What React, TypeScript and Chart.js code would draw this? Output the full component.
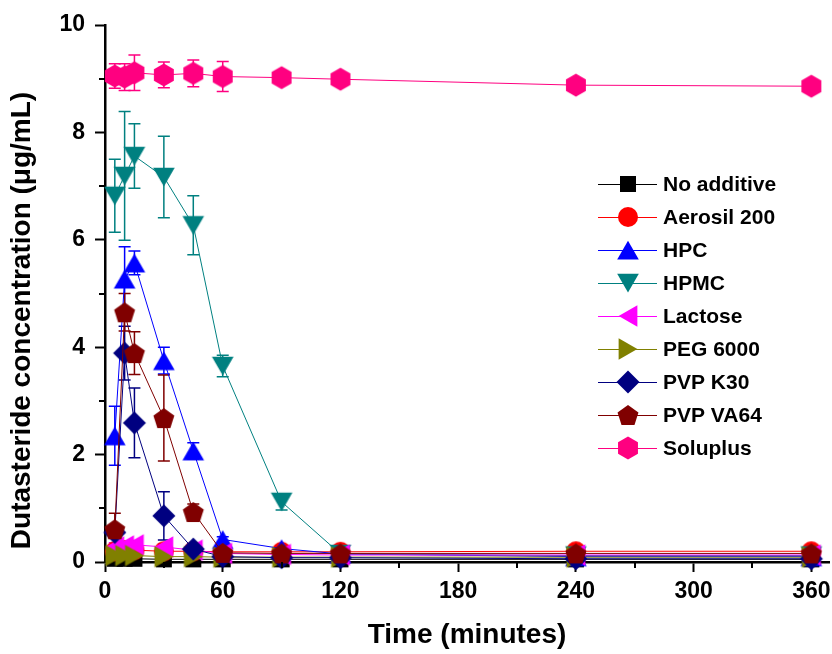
import React, { useEffect, useRef } from 'react';
import { Chart, registerables } from 'chart.js';

Chart.register(...registerables);

// ---------- data ----------
const TIMES = [5, 10, 15, 30, 45, 60, 90, 120, 240, 360];
const X_TICKS = [0, 60, 120, 180, 240, 300, 360];
const X_MINOR = [30, 90, 150, 210, 270, 330];
const Y_MINOR = [1, 3, 5, 7, 9];

const NAMES = ['No additive', 'Aerosil 200', 'HPC', 'HPMC', 'Lactose', 'PEG 6000', 'PVP K30', 'PVP VA64', 'Soluplus'];
const X_TITLE = 'Time (minutes)';
const Y_TITLE = 'Dutasteride concentration (μg/mL)';

const NO_ADDITIVE = [0.06, 0.06, 0.06, 0.05, 0.05, 0.05, 0.05, 0.05, 0.05, 0.05];
const NO_ADDITIVE_SD = [0.02, 0.02, 0.02, 0.02, 0.02, 0.02, 0.02, 0.02, 0.02, 0.02];
const AEROSIL = [0.2, 0.22, 0.22, 0.2, 0.2, 0.19, 0.19, 0.19, 0.2, 0.2];
const AEROSIL_SD = [0.03, 0.03, 0.03, 0.03, 0.03, 0.03, 0.03, 0.03, 0.03, 0.03];
const HPC = [2.35, 5.27, 5.57, 3.75, 2.07, 0.42, 0.25, 0.15, 0.1, 0.1];
const HPC_SD = [0.55, 0.6, 0.22, 0.25, 0.15, 0.05, 0.03, 0.02, 0.02, 0.02];
const HPMC = [6.82, 7.19, 7.56, 7.17, 6.27, 3.65, 1.12, 0.15, 0.12, 0.12];
const HPMC_SD = [0.68, 1.2, 0.6, 0.76, 0.55, 0.2, 0.15, 0.03, 0.02, 0.02];
const LACTOSE = [0.28, 0.3, 0.32, 0.28, 0.22, 0.16, 0.14, 0.13, 0.13, 0.13];
const LACTOSE_SD = [0.08, 0.08, 0.08, 0.06, 0.05, 0.03, 0.03, 0.03, 0.03, 0.03];
const PEG = [0.12, 0.12, 0.12, 0.1, 0.1, 0.09, 0.09, 0.09, 0.09, 0.09];
const PEG_SD = [0.03, 0.03, 0.03, 0.03, 0.03, 0.02, 0.02, 0.02, 0.02, 0.02];
const PVP_K30 = [0.55, 3.89, 2.59, 0.86, 0.24, 0.1, 0.08, 0.08, 0.06, 0.06];
const PVP_K30_SD = [0.1, 0.5, 0.65, 0.45, 0.1, 0.03, 0.02, 0.02, 0.02, 0.02];
const PVP_VA64 = [0.61, 4.65, 3.89, 2.68, 0.93, 0.17, 0.16, 0.16, 0.16, 0.16];
const PVP_VA64_SD = [0.3, 0.35, 0.4, 0.8, 0.15, 0.05, 0.03, 0.03, 0.03, 0.03];
const SOLUPLUS = [9.05, 9.03, 9.11, 9.07, 9.1, 9.04, 9.02, 8.99, 8.88, 8.86];
const SOLUPLUS_SD = [0.23, 0.25, 0.33, 0.24, 0.25, 0.28, 0.08, 0.1, 0.05, 0.05];

const VALUES = [NO_ADDITIVE, AEROSIL, HPC, HPMC, LACTOSE, PEG, PVP_K30, PVP_VA64, SOLUPLUS];
const ERRORS = [NO_ADDITIVE_SD, AEROSIL_SD, HPC_SD, HPMC_SD, LACTOSE_SD, PEG_SD, PVP_K30_SD, PVP_VA64_SD, SOLUPLUS_SD];

// ---------- styles ----------
const COLORS = ['#000000', '#FF0000', '#0000FF', '#008080', '#FF00FF', '#808000', '#000080', '#800000', '#FF0080'];
const SHAPES = ['square', 'circle', 'up', 'down', 'left', 'right', 'diamond', 'pentagon', 'hexagon'];
const FONT = "'Liberation Sans', Arial, Helvetica, sans-serif";

function makeMarker(shape: string, color: string): HTMLCanvasElement {
  const size = 28;
  const c = document.createElement('canvas');
  c.width = size;
  c.height = size;
  const ctx = c.getContext('2d')!;
  const cx = size / 2;
  const cy = size / 2;
  ctx.fillStyle = color;
  ctx.beginPath();
  const poly = (n: number, r: number, rot: number, dx = 0, dy = 0) => {
    for (let k = 0; k < n; k++) {
      const a = rot + (k * 2 * Math.PI) / n;
      const x = cx + dx + r * Math.cos(a);
      const y = cy + dy + r * Math.sin(a);
      if (k === 0) ctx.moveTo(x, y);
      else ctx.lineTo(x, y);
    }
    ctx.closePath();
  };
  const tr = 12.5;
  switch (shape) {
    case 'square':
      ctx.rect(cx - 8, cy - 8, 16, 16);
      break;
    case 'circle':
      ctx.arc(cx, cy, 10, 0, Math.PI * 2);
      break;
    case 'up':
      poly(3, tr, -Math.PI / 2, 0, tr / 4);
      break;
    case 'down':
      poly(3, tr, Math.PI / 2, 0, -tr / 4);
      break;
    case 'left':
      poly(3, tr, Math.PI, tr / 4, 0);
      break;
    case 'right':
      poly(3, tr, 0, -tr / 4, 0);
      break;
    case 'diamond':
      poly(4, 11.5, -Math.PI / 2);
      break;
    case 'pentagon':
      poly(5, 11, -Math.PI / 2, 0, 1);
      break;
    case 'hexagon':
      poly(6, 11.5, -Math.PI / 2);
      break;
  }
  ctx.fill();
  return c;
}

const errorBarPlugin = {
  id: 'errorBars',
  beforeDatasetsDraw(chart: any) {
    const ctx = chart.ctx;
    const xs = chart.scales.x;
    const ys = chart.scales.y;
    ERRORS.forEach((sd, di) => {
      ctx.save();
      ctx.strokeStyle = COLORS[di];
      ctx.lineWidth = 1.5;
      TIMES.forEach((t, i) => {
        const e = sd[i];
        if (!e) return;
        const v = VALUES[di][i];
        const x = xs.getPixelForValue(t);
        const yT = ys.getPixelForValue(v + e);
        const yB = ys.getPixelForValue(v - e);
        ctx.beginPath();
        ctx.moveTo(x, yT);
        ctx.lineTo(x, yB);
        ctx.moveTo(x - 6, yT);
        ctx.lineTo(x + 6, yT);
        ctx.moveTo(x - 6, yB);
        ctx.lineTo(x + 6, yB);
        ctx.stroke();
      });
      ctx.restore();
    });
  },
};

const minorTickPlugin = {
  id: 'minorTicks',
  afterDraw(chart: any) {
    const ctx = chart.ctx;
    const xs = chart.scales.x;
    const ys = chart.scales.y;
    const area = chart.chartArea;
    ctx.save();
    ctx.strokeStyle = '#000';
    ctx.lineWidth = 2;
    ctx.beginPath();
    X_MINOR.forEach((v) => {
      const x = Math.round(xs.getPixelForValue(v));
      ctx.moveTo(x, area.bottom);
      ctx.lineTo(x, area.bottom + 6);
    });
    Y_MINOR.forEach((v) => {
      const y = Math.round(ys.getPixelForValue(v));
      ctx.moveTo(area.left, y);
      ctx.lineTo(area.left - 6, y);
    });
    ctx.stroke();
    // y axis title
    ctx.translate(22, (area.top + area.bottom) / 2 + 27);
    ctx.rotate(-Math.PI / 2);
    ctx.fillStyle = '#000';
    ctx.font = `bold 28px ${FONT}`;
    ctx.textAlign = 'center';
    ctx.textBaseline = 'middle';
    ctx.fillText(Y_TITLE, 0, 0);
    ctx.restore();
  },
};

const legendPlugin = {
  id: 'customLegend',
  afterDraw(chart: any) {
    const ctx = chart.ctx;
    const area = chart.chartArea;
    const lineX0 = area.right - 231;
    const lineX1 = area.right - 172;
    const markX = area.right - 201;
    const textX = area.right - 166;
    const top = area.top + 159;
    const step = 33;
    ctx.save();
    chart.data.datasets.forEach((ds: any, i: number) => {
      const y = top + i * step;
      ctx.strokeStyle = COLORS[i];
      ctx.lineWidth = 1;
      ctx.beginPath();
      ctx.moveTo(lineX0, y + 0.5);
      ctx.lineTo(lineX1, y + 0.5);
      ctx.stroke();
      const img = ds.pointStyle as HTMLCanvasElement;
      ctx.drawImage(img, Math.round(markX - img.width / 2), Math.round(y - img.height / 2));
      ctx.fillStyle = '#000';
      ctx.font = `bold 21px ${FONT}`;
      ctx.textAlign = 'left';
      ctx.textBaseline = 'middle';
      ctx.fillText(ds.label, textX, y + 1);
    });
    ctx.restore();
  },
};

export default function App() {
  const canvasRef = useRef<HTMLCanvasElement | null>(null);

  useEffect(() => {
    document.body.style.margin = '0';
    const canvas = canvasRef.current;
    if (!canvas) return;

    const datasets = NAMES.map((name, i) => ({
      label: name,
      data: TIMES.map((t, k) => ({ x: t, y: VALUES[i][k] })),
      borderColor: COLORS[i],
      backgroundColor: COLORS[i],
      borderWidth: 1,
      pointStyle: makeMarker(SHAPES[i], COLORS[i]),
      pointRadius: 11,
      pointHoverRadius: 11,
      tension: 0,
      clip: false as any,
      order: -i,
    }));

    const chart = new Chart(canvas, {
      type: 'line',
      data: { datasets },
      plugins: [errorBarPlugin, minorTickPlugin, legendPlugin],
      options: {
        animation: false,
        responsive: false,
        devicePixelRatio: 1,
        layout: { autoPadding: false, padding: { top: 25, right: 3, left: 0, bottom: 0 } },
        plugins: {
          legend: { display: false },
          tooltip: { enabled: false },
        },
        scales: {
          x: {
            type: 'linear',
            min: 0,
            max: 369,
            afterBuildTicks: (axis: any) => {
              axis.ticks = X_TICKS.map((v) => ({ value: v }));
            },
            afterFit: (axis: any) => {
              axis.height = 92;
              axis.paddingLeft = 0;
              axis.paddingRight = 0;
            },
            grid: {
              drawOnChartArea: false,
              drawTicks: true,
              tickLength: 10,
              tickWidth: 2,
              tickColor: '#000',
            },
            border: { display: true, color: '#000', width: 2.5 },
            ticks: {
              color: '#000',
              font: { family: FONT, size: 23, weight: 'bold' },
              padding: 6,
              maxRotation: 0,
              autoSkip: false,
            },
            title: {
              display: true,
              text: X_TITLE,
              color: '#000',
              font: { family: FONT, size: 28, weight: 'bold' },
              padding: { top: 0, bottom: 2 },
            },
          },
          y: {
            type: 'linear',
            min: 0,
            max: 10,
            ticks: {
              stepSize: 2,
              color: '#000',
              font: { family: FONT, size: 23, weight: 'bold' },
              padding: 10,
            },
            afterFit: (axis: any) => {
              axis.width = 105;
              axis.paddingTop = 0;
              axis.paddingBottom = 0;
            },
            grid: {
              drawOnChartArea: false,
              drawTicks: true,
              tickLength: 10,
              tickWidth: 2,
              tickColor: '#000',
            },
            border: { display: true, color: '#000', width: 2.5 },
            title: { display: false },
          },
        },
      } as any,
    });

    return () => {
      chart.destroy();
    };
  }, []);

  return (
    <div style={{ width: 832, height: 654 }}>
      <canvas ref={canvasRef} width={832} height={654} style={{ display: 'block' }} />
    </div>
  );
}
